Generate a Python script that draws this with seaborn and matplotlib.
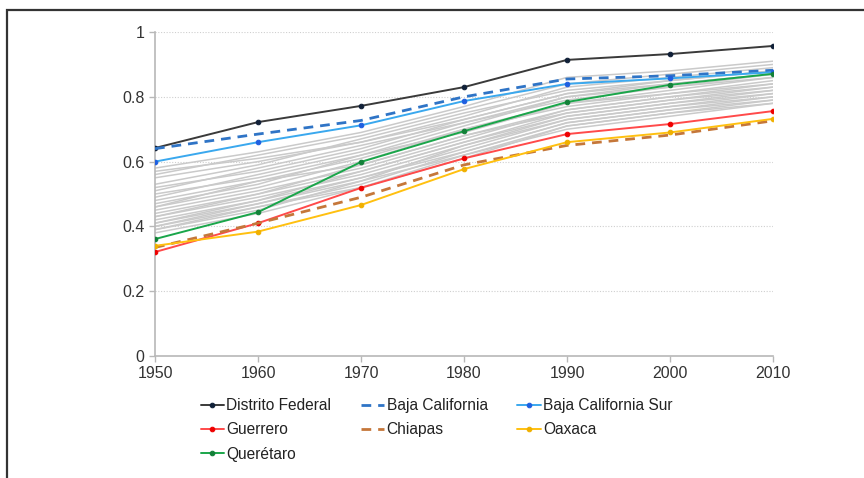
import pandas as pd
import seaborn as sns
import matplotlib.pyplot as plt
from matplotlib.patches import Rectangle

# Years on the x axis
years = [1950, 1960, 1970, 1980, 1990, 2000, 2010]

# Highlighted states
distrito_federal = [0.642, 0.722, 0.772, 0.830, 0.914, 0.932, 0.957]
baja_california = [0.640, 0.685, 0.727, 0.800, 0.855, 0.865, 0.882]
baja_california_sur = [0.600, 0.660, 0.712, 0.787, 0.840, 0.857, 0.876]
guerrero = [0.321, 0.410, 0.519, 0.610, 0.685, 0.716, 0.756]
chiapas = [0.335, 0.410, 0.490, 0.590, 0.650, 0.682, 0.726]
oaxaca = [0.340, 0.384, 0.466, 0.577, 0.660, 0.690, 0.732]
queretaro = [0.361, 0.444, 0.599, 0.694, 0.784, 0.837, 0.871]

# Remaining states (grey background lines)
others = [
    [0.58, 0.63, 0.69, 0.77, 0.86, 0.88, 0.91],
    [0.56, 0.62, 0.68, 0.76, 0.84, 0.87, 0.90],
    [0.55, 0.60, 0.66, 0.74, 0.83, 0.86, 0.89],
    [0.53, 0.59, 0.67, 0.75, 0.82, 0.85, 0.88],
    [0.52, 0.57, 0.64, 0.73, 0.81, 0.85, 0.88],
    [0.51, 0.58, 0.65, 0.72, 0.80, 0.84, 0.87],
    [0.50, 0.55, 0.62, 0.71, 0.80, 0.83, 0.87],
    [0.49, 0.56, 0.63, 0.72, 0.79, 0.83, 0.86],
    [0.48, 0.54, 0.61, 0.70, 0.78, 0.82, 0.86],
    [0.47, 0.53, 0.62, 0.69, 0.78, 0.81, 0.85],
    [0.46, 0.52, 0.60, 0.70, 0.77, 0.81, 0.84],
    [0.46, 0.54, 0.59, 0.68, 0.76, 0.80, 0.84],
    [0.45, 0.51, 0.58, 0.67, 0.76, 0.80, 0.83],
    [0.44, 0.50, 0.59, 0.68, 0.75, 0.79, 0.83],
    [0.43, 0.50, 0.57, 0.66, 0.75, 0.79, 0.82],
    [0.43, 0.49, 0.56, 0.65, 0.74, 0.78, 0.82],
    [0.42, 0.48, 0.57, 0.66, 0.74, 0.78, 0.81],
    [0.41, 0.48, 0.55, 0.64, 0.73, 0.77, 0.81],
    [0.41, 0.47, 0.54, 0.65, 0.73, 0.77, 0.80],
    [0.40, 0.47, 0.55, 0.63, 0.72, 0.76, 0.80],
    [0.40, 0.46, 0.53, 0.63, 0.72, 0.76, 0.79],
    [0.39, 0.45, 0.54, 0.62, 0.71, 0.75, 0.79],
    [0.39, 0.46, 0.52, 0.61, 0.71, 0.75, 0.78],
    [0.38, 0.44, 0.52, 0.62, 0.70, 0.74, 0.78],
    [0.57, 0.61, 0.66, 0.73, 0.81, 0.84, 0.87],
]

highlight = {
    "Distrito Federal": distrito_federal,
    "Baja California": baja_california,
    "Baja California Sur": baja_california_sur,
    "Guerrero": guerrero,
    "Chiapas": chiapas,
    "Oaxaca": oaxaca,
    "Querétaro": queretaro,
}

# name: (line colour, marker colour, dashed)
styles = {
    "Distrito Federal": ("#3a3a3a", "#102038", False),
    "Baja California": ("#2f74c6", None, True),
    "Baja California Sur": ("#3aa8ee", "#1f5fe0", False),
    "Guerrero": ("#ff4a4a", "#ee0000", False),
    "Chiapas": ("#c5773a", None, True),
    "Oaxaca": ("#ffc010", "#f0b000", False),
    "Querétaro": ("#1aa64a", "#128038", False),
}

grey_df = pd.DataFrame(
    [(f"s{i}", y, v) for i, row in enumerate(others) for y, v in zip(years, row)],
    columns=["state", "year", "value"],
)

sns.set_style("white")
plt.rcParams["font.family"] = ["Liberation Sans", "DejaVu Sans"]

fig = plt.figure(figsize=(8.64, 4.78), dpi=100)
ax = fig.add_axes([0.1794, 0.2552, 0.7153, 0.6778])

sns.lineplot(data=grey_df, x="year", y="value", units="state", estimator=None,
             color="#cacaca", linewidth=1.1, ax=ax, legend=False, zorder=2)

handles = {}
for name, vals in highlight.items():
    lc, mc, dashed = styles[name]
    df = pd.DataFrame({"year": years, "value": vals})
    kw = dict(color=lc, linewidth=2.0 if dashed else 1.4, ax=ax, zorder=3, label=name)
    if dashed:
        sns.lineplot(data=df, x="year", y="value", **kw)
        ax.lines[-1].set_dashes([3.5, 2.5])
    else:
        sns.lineplot(data=df, x="year", y="value", marker="o", markersize=3.3,
                     markerfacecolor=mc, markeredgecolor=mc, **kw)
    handles[name] = ax.lines[-1]

ax.set_xlim(1950, 2010)
ax.set_ylim(0, 1)
ax.set_xticks(years)
ax.set_yticks([0, 0.2, 0.4, 0.6, 0.8, 1.0])
ax.set_yticklabels(["0", "0.2", "0.4", "0.6", "0.8", "1"])
ax.set_xlabel("")
ax.set_ylabel("")
ax.yaxis.grid(True, color="#cfcfcf", linestyle=(0, (1, 1.5)), linewidth=0.8)
ax.xaxis.grid(False)
for side in ["top", "right"]:
    ax.spines[side].set_visible(False)
for side in ["left", "bottom"]:
    ax.spines[side].set_color("#b8b8b8")
    ax.spines[side].set_linewidth(1.2)
ax.tick_params(axis="both", which="both", length=4, width=1, color="#b8b8b8",
               labelsize=11.5, labelcolor="#333333", direction="out",
               bottom=True, left=True)
ax.tick_params(axis="x", pad=3)

order = ["Distrito Federal", "Guerrero", "Querétaro", "Baja California",
         "Chiapas", "Baja California Sur", "Oaxaca"]
ax.legend([handles[n] for n in order], order, ncol=3, frameon=False,
          loc="upper left", bbox_to_anchor=(0.074, -0.130), fontsize=11.2,
          handlelength=1.5, handletextpad=0.15, columnspacing=1.9,
          labelspacing=0.6, borderaxespad=0, borderpad=0)
leg = ax.get_legend()
for t in leg.get_texts():
    t.set_color("#222222")

# outer frame
fig.patches.append(Rectangle((6.5 / 864, -0.1), 1.2, 1.1 - 10.5 / 478,
                             transform=fig.transFigure, fill=False,
                             edgecolor="#333333", linewidth=1.6))

fig.savefig("out.png", dpi=100)
